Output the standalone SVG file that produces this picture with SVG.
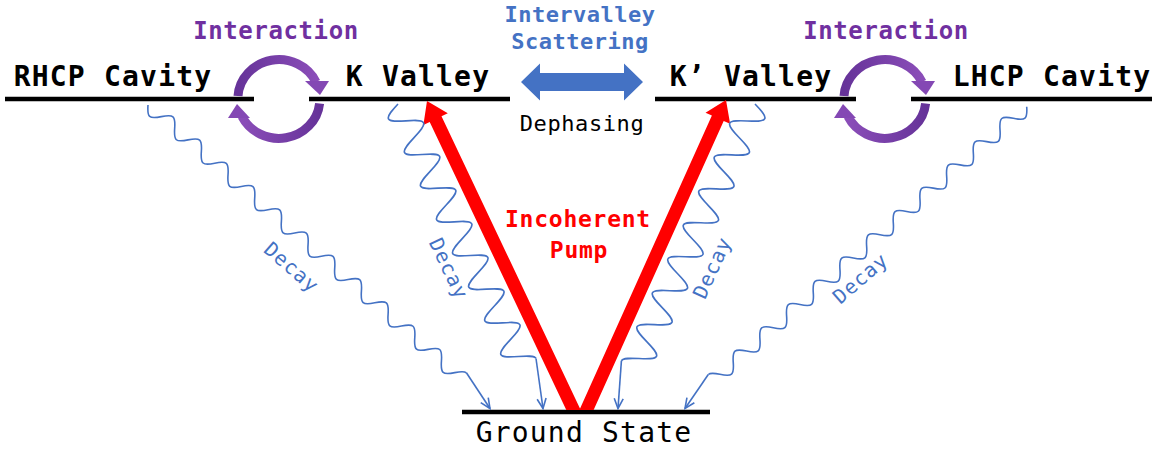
<svg xmlns="http://www.w3.org/2000/svg" width="1156" height="452" viewBox="0 0 1156 452">
<style>
.lvl{stroke:#000;stroke-width:4.5;fill:none}
.txt{font-family:"DejaVu Sans Mono",monospace;text-anchor:middle}
.big{font-size:28px;font-weight:bold;letter-spacing:1.2px;fill:#000}
.gs{font-size:28px;font-weight:normal;letter-spacing:1.2px;fill:#000}
.int{font-size:24px;font-weight:bold;letter-spacing:0.6px;fill:#7030A0}
.ivs{font-size:22px;font-weight:bold;letter-spacing:0.5px;fill:#4472C4}
.deph{font-size:22px;font-weight:normal;letter-spacing:0.6px;fill:#000}
.pump{font-size:23px;font-weight:bold;letter-spacing:0.75px;fill:#FF0000}
.decay{font-size:20px;font-weight:normal;letter-spacing:1px;fill:#4472C4}
.wave{fill:none;stroke:#4472C4;stroke-width:1.6}
.tail{fill:none;stroke:#4472C4;stroke-width:1.6;marker-end:url(#ah)}
.arcU{fill:none;stroke:url(#gU);stroke-width:9}
.arcL{fill:none;stroke:url(#gL);stroke-width:9}
.ph{fill:#8448B4}
.red{fill:#FF0000}
</style>
<defs>
<marker id="ah" viewBox="-12 -7 14 14" refX="0" refY="0" markerWidth="14" markerHeight="14" markerUnits="userSpaceOnUse" orient="auto">
<path d="M-10,-4.5 L0,0 L-10,4.5" fill="none" stroke="#4472C4" stroke-width="1.6"/>
</marker>
<linearGradient id="gU" x1="0" y1="0" x2="1" y2="0"><stop offset="0" stop-color="#663399"/><stop offset="1" stop-color="#8A4DB8"/></linearGradient>
<linearGradient id="gL" x1="1" y1="0" x2="0" y2="0"><stop offset="0" stop-color="#663399"/><stop offset="1" stop-color="#8A4DB8"/></linearGradient>
<path id="waveA" d="M0,0 c2.885,3.84 5.646,7.5 8.85,7.5 s5.965,-3.66 8.85,-7.5 s5.646,-7.5 8.85,-7.5 s5.965,3.66 8.85,7.5 s5.646,7.5 8.85,7.5 s5.965,-3.66 8.85,-7.5 s5.646,-7.5 8.85,-7.5 s5.965,3.66 8.85,7.5 s5.646,7.5 8.85,7.5 s5.965,-3.66 8.85,-7.5 s5.646,-7.5 8.85,-7.5 s5.965,3.66 8.85,7.5 s5.646,7.5 8.85,7.5 s5.965,-3.66 8.85,-7.5 s5.646,-7.5 8.85,-7.5 s5.965,3.66 8.85,7.5 s5.646,7.5 8.85,7.5 s5.965,-3.66 8.85,-7.5 s5.646,-7.5 8.85,-7.5 s5.965,3.66 8.85,7.5 s5.646,7.5 8.85,7.5 s5.965,-3.66 8.85,-7.5 s5.646,-7.5 8.85,-7.5 s5.965,3.66 8.85,7.5 s5.646,7.5 8.85,7.5 s5.965,-3.66 8.85,-7.5 s5.646,-7.5 8.85,-7.5 s5.965,3.66 8.85,7.5 s5.646,7.5 8.85,7.5 s5.965,-3.66 8.85,-7.5 s5.646,-7.5 8.85,-7.5 s5.965,3.66 8.85,7.5 s5.646,7.5 8.85,7.5 s5.965,-3.66 8.85,-7.5 s5.646,-7.5 8.85,-7.5 s5.965,3.66 8.85,7.5 s5.646,7.5 8.85,7.5 s5.965,-3.66 8.85,-7.5 s5.646,-7.5 8.85,-7.5 s5.965,3.66 8.85,7.5 s5.646,7.5 8.85,7.5 s5.965,-3.66 8.85,-7.5 s5.646,-7.5 8.85,-7.5 s5.965,3.66 8.85,7.5 s5.646,7.5 8.85,7.5 s5.965,-3.66 8.85,-7.5 s5.646,-7.5 8.85,-7.5"/>
<path id="waveB" d="M0,0 c3.04,7.68 5.949,15 9.325,15 s6.285,-7.32 9.325,-15 s5.949,-15 9.325,-15 s6.285,7.32 9.325,15 s5.949,15 9.325,15 s6.285,-7.32 9.325,-15 s5.949,-15 9.325,-15 s6.285,7.32 9.325,15 s5.949,15 9.325,15 s6.285,-7.32 9.325,-15 s5.949,-15 9.325,-15 s6.285,7.32 9.325,15 s5.949,15 9.325,15 s6.285,-7.32 9.325,-15 s5.949,-15 9.325,-15 s6.285,7.32 9.325,15 s5.949,15 9.325,15 s6.285,-7.32 9.325,-15 s5.949,-15 9.325,-15 s6.285,7.32 9.325,15 s5.949,15 9.325,15 s6.285,-7.32 9.325,-15 s5.949,-15 9.325,-15 s6.285,7.32 9.325,15 s5.949,15 9.325,15 s6.285,-7.32 9.325,-15 s5.949,-15 9.325,-15 s6.285,7.32 9.325,15 s5.949,15 9.325,15 s6.285,-7.32 9.325,-15 s5.949,-15 9.325,-15"/>
</defs>
<rect x="0" y="0" width="1156" height="452" fill="#fff"/>

<g id="node-rhcp">
<line class="lvl" x1="5" y1="99" x2="254" y2="99"/>
<text class="txt big" x="113" y="86">RHCP Cavity</text>
</g>
<g id="node-k">
<line class="lvl" x1="309" y1="99" x2="510" y2="99"/>
<text class="txt big" x="418" y="86">K Valley</text>
</g>
<g id="node-kp">
<line class="lvl" x1="655" y1="99" x2="856" y2="99"/>
<text class="txt big" x="751" y="86">K’ Valley</text>
</g>
<g id="node-lhcp">
<line class="lvl" x1="911" y1="99" x2="1152" y2="99"/>
<text class="txt big" x="1052" y="86">LHCP Cavity</text>
</g>
<g id="node-ground">
<line class="lvl" x1="462" y1="412" x2="710" y2="412"/>
<text class="txt gs" x="584" y="442">Ground State</text>
</g>

<g id="connectors">
<g id="interaction-left">
<path class="arcU" d="M238,96 A41,39 0 0 1 316,82"/>
<polygon class="ph" points="305,81 329,81 320,95"/>
<path class="arcL" d="M319.6,103.4 A41,39 0 0 1 242,116.5"/>
<polygon class="ph" points="228,118 250,118 237,104"/>
</g>
<g id="interaction-right">
<path class="arcU" d="M844,96 A41,39 0 0 1 922,82"/>
<polygon class="ph" points="911,81 935,81 926,95"/>
<path class="arcL" d="M925.6,103.4 A41,39 0 0 1 848,116.5"/>
<polygon class="ph" points="834,118 856,118 843,104"/>
</g>
<polygon id="intervalley" fill="#4472C4" points="521,82 540,63.5 540,73 624,73 624,63.5 643,82 624,100.5 624,91 540,91 540,100.5"/>
<polygon id="pump-k" class="red" points="566.3,410 580.7,410 441.5,116.3 447.8,113.3 427,101 423.4,124.9 429.7,121.9"/>
<polygon id="pump-kp" class="red" points="579.4,410 593.6,410 723.7,120.9 730.1,123.7 726,100 705.5,112.7 711.9,115.5"/>
<g id="decay-rhcp">
<use href="#waveA" class="wave" transform="translate(148,105) rotate(41.1)"/>
<path class="tail" d="M466.4,372.8 L490,408.5"/>
</g>
<g id="decay-k">
<use href="#waveB" class="wave" transform="translate(398,104) rotate(64.5)"/>
<path class="tail" d="M536,358.5 L543,408.5"/>
</g>
<g id="decay-kp">
<use href="#waveB" class="wave" transform="translate(755,104) scale(-1,1) rotate(65.5)"/>
<path class="tail" d="M621.4,360.9 L618,408.5"/>
</g>
<g id="decay-lhcp">
<use href="#waveA" class="wave" transform="translate(1026.7,106.7) scale(-1,1) rotate(41.1)"/>
<path class="tail" d="M708.3,374.5 L685,408.5"/>
</g>
</g>

<g id="labels">
<text class="txt int" x="276" y="39">Interaction</text>
<text class="txt int" x="886" y="39">Interaction</text>
<text class="txt ivs" x="580" y="22">Intervalley</text>
<text class="txt ivs" x="580" y="49">Scattering</text>
<text class="txt deph" x="582" y="131">Dephasing</text>
<text class="txt pump" x="578" y="227">Incoherent</text>
<text class="txt pump" x="579" y="258">Pump</text>
<text class="txt decay" transform="translate(291,268) rotate(41)" x="0" y="6">Decay</text>
<text class="txt decay" transform="translate(448,269) rotate(64.5)" x="0" y="6">Decay</text>
<text class="txt decay" transform="translate(713,268) rotate(-65.5)" x="0" y="6">Decay</text>
<text class="txt decay" transform="translate(861,279) rotate(-41)" x="0" y="6">Decay</text>
</g>
</svg>
